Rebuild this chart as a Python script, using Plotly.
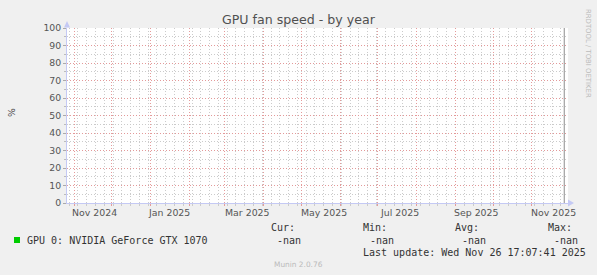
import plotly.graph_objects as go
import pandas as pd

# ---------------- data ----------------
title = "GPU fan speed - by year"
y_title = "%"
series_name = "GPU 0: NVIDIA GeForce GTX 1070"
series_color = "#00CC00"

# the series has no valid samples in the year window (all "-nan")
sample_times = list(pd.date_range("2024-10-26", "2025-11-26", freq="D"))
sample_values = [float("nan")] * len(sample_times)

x_range = ["2024-10-26 07:00", "2025-11-29 17:00"]
month_starts = ["2024-11-01", "2024-12-01", "2025-01-01", "2025-02-01", "2025-03-01",
                "2025-04-01", "2025-05-01", "2025-06-01", "2025-07-01", "2025-08-01",
                "2025-09-01", "2025-10-01", "2025-11-01"]
week_tick0 = "2024-10-28"
label_dates = ["2024-11-17", "2025-01-16", "2025-03-19", "2025-05-19",
               "2025-07-18", "2025-09-18", "2025-11-18"]
label_texts = ["Nov 2024", "Jan 2025", "Mar 2025", "May 2025",
               "Jul 2025", "Sep 2025", "Nov 2025"]
y_ticks = [0, 10, 20, 30, 40, 50, 60, 70, 80, 90, 100]
y_range = [0, 100]

stat_headers = ["Cur:", "Min:", "Avg:", "Max:"]
stat_values = ["-nan", "-nan", "-nan", "-nan"]
last_update = "2025-11-26 17:07:41"
last_update_text = "Last update: Wed Nov 26 17:07:41 2025"
footer = "Munin 2.0.76"
watermark = "RRDTOOL / TOBI OETIKER"

# ---------------- layout geometry ----------------
W, H = 597, 275
L, R, T, B = 67, 568, 28, 203


def px(x):
    return (x - L) / (R - L)


def py(y):
    return (B - y) / (B - T)


RED = "rgba(228,150,150,0.95)"
GREY = "rgba(200,200,200,0.95)"
AXIS = "#C4C9F4"
TXT = "#555555"
DASH = "1px,2px"

fig = go.Figure()
fig.add_trace(go.Scatter(x=sample_times, y=sample_values, mode="lines",
                         line=dict(color=series_color, width=1),
                         name=series_name, showlegend=False, hoverinfo="skip"))

fig.update_layout(
    width=W, height=H,
    margin=dict(l=L, r=W - R, t=T, b=H - B, pad=0),
    paper_bgcolor="#F0F0F0", plot_bgcolor="#FFFFFF",
    font=dict(family="DejaVu Sans", size=9.3, color=TXT),
    showlegend=False,
    xaxis=dict(
        range=x_range, type="date",
        tickmode="array", tickvals=month_starts, ticktext=[""] * len(month_starts),
        showgrid=True, gridcolor=RED, griddash=DASH, gridwidth=1,
        ticks="outside", ticklen=2, tickcolor=RED,
        zeroline=False, showline=True, linecolor=AXIS, linewidth=1,
        minor=dict(tick0=week_tick0, dtick=7 * 86400000, showgrid=True,
                   gridcolor=GREY, griddash=DASH, gridwidth=1,
                   ticks="outside", ticklen=2, tickcolor=GREY),
    ),
    yaxis=dict(
        range=y_range, tickmode="array", tickvals=y_ticks,
        showgrid=True, gridcolor=RED, griddash=DASH, gridwidth=1,
        ticks="outside", ticklen=3, tickcolor="#AAAAAA",
        zeroline=False, showline=True, linecolor=AXIS, linewidth=1,
        tickfont=dict(family="DejaVu Sans", size=9.3, color=TXT),
        minor=dict(dtick=5, showgrid=True, gridcolor=GREY, griddash=DASH,
                   ticks="outside", ticklen=2, tickcolor="#BBBBBB"),
    ),
)

# x labels (centred inside the labelled month)
for d, t in zip(label_dates, label_texts):
    fig.add_annotation(text=t, xref="x", yref="paper", x=d, y=py(212.5),
                       xanchor="center", yanchor="middle", showarrow=False,
                       font=dict(family="DejaVu Sans", size=9.4, color=TXT))

# vertical rule at the last update time
fig.add_shape(type="line", xref="x", yref="paper", x0=last_update, x1=last_update,
              y0=0, y1=1, line=dict(color="#8C8C8C", width=1))

# axis arrows
fig.add_shape(type="path", xref="paper", yref="paper", xsizemode="pixel", ysizemode="pixel",
              xanchor=0, yanchor=1, path="M-3,0.5 L3,0.5 L0,7 Z",
              fillcolor=AXIS, line=dict(color=AXIS, width=0))
fig.add_shape(type="path", xref="paper", yref="paper", xsizemode="pixel", ysizemode="pixel",
              xanchor=1, yanchor=0, path="M0,-3.5 L0,3.5 L6,0 Z",
              fillcolor=AXIS, line=dict(color=AXIS, width=0))

# title
fig.add_annotation(text=title, xref="paper", yref="paper", x=px(298.5), y=py(19.5),
                   xanchor="center", yanchor="middle", showarrow=False,
                   font=dict(family="DejaVu Sans", size=12.6, color="#505050"))
# y title
fig.add_annotation(text=y_title, xref="paper", yref="paper", x=px(11), y=py(113),
                   xanchor="center", yanchor="middle", showarrow=False, textangle=-90,
                   font=dict(family="DejaVu Sans", size=9.3, color=TXT))
# watermark
fig.add_annotation(text=watermark, xref="paper", yref="paper", x=px(588), y=py(53),
                   xanchor="center", yanchor="middle", showarrow=False, textangle=90,
                   font=dict(family="DejaVu Sans", size=6.9, color="#BBBBBB"))

# legend
mono = dict(family="DejaVu Sans Mono", size=10, color="#333333")
fig.add_shape(type="rect", xref="paper", yref="paper",
              x0=px(14), x1=px(20), y0=py(243), y1=py(237),
              fillcolor=series_color, line=dict(width=0))
fig.add_annotation(text=series_name, xref="paper", yref="paper", x=px(25), y=py(240),
                   xanchor="left", yanchor="middle", showarrow=False, font=mono)
header_x = [268.6, 360.8, 453, 545.8]
value_x = [274.7, 367.6, 459.8, 552]
for hx, vx, h, v in zip(header_x, value_x, stat_headers, stat_values):
    fig.add_annotation(text=h, xref="paper", yref="paper", x=px(hx), y=py(227),
                       xanchor="left", yanchor="middle", showarrow=False, font=mono)
    fig.add_annotation(text=v, xref="paper", yref="paper", x=px(vx), y=py(240),
                       xanchor="left", yanchor="middle", showarrow=False, font=mono)
fig.add_annotation(text=last_update_text, xref="paper", yref="paper", x=px(360.8), y=py(252),
                   xanchor="left", yanchor="middle", showarrow=False, font=mono)
fig.add_annotation(text=footer, xref="paper", yref="paper", x=px(298), y=py(264),
                   xanchor="center", yanchor="middle", showarrow=False,
                   font=dict(family="DejaVu Sans", size=7.4, color="#BBBBBB"))

fig.write_html("out.html")
